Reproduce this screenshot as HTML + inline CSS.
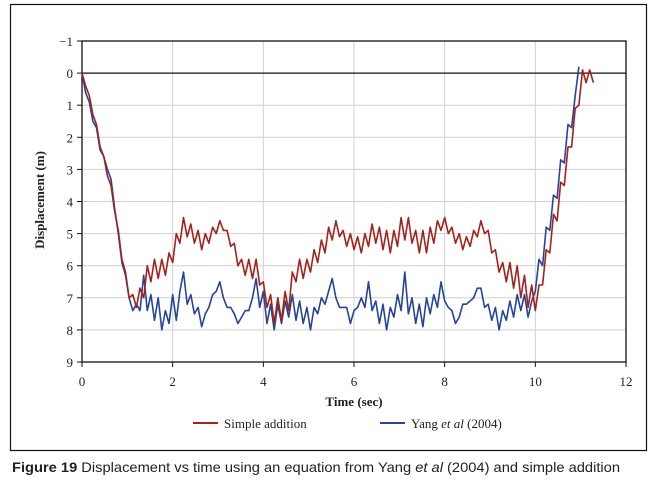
<!DOCTYPE html>
<html><head><meta charset="utf-8"><style>
body{margin:0;background:#fff;width:655px;height:485px;overflow:hidden}
svg{display:block}
text{font-family:"Liberation Serif",serif;fill:#222}
</style></head><body>
<svg id="chart" width="655" height="485" viewBox="0 0 655 485" xmlns="http://www.w3.org/2000/svg">
<rect x="10.5" y="4.5" width="636" height="446" fill="none" stroke="#111" stroke-width="1.2"/>
<g id="grid"></g>
<g id="axes"></g>
<g id="series"></g>
<text transform="translate(44,200) rotate(-90)" text-anchor="middle" font-size="13" font-weight="bold">Displacement (m)</text>
<text x="354" y="406" text-anchor="middle" font-size="13" font-weight="bold">Time (sec)</text>
<g>
<g>
<line x1="193" y1="423" x2="218" y2="423" stroke="#a3231c" stroke-width="2"/>
<text x="224" y="428" font-size="13">Simple addition</text></g>
<g>
<line x1="380" y1="423" x2="405" y2="423" stroke="#26449a" stroke-width="2"/>
<text x="411" y="428" font-size="13">Yang <tspan font-style="italic">et al</tspan> (2004)</text></g>
</g>
<text x="12" y="472" font-size="14" textLength="608" lengthAdjust="spacingAndGlyphs" style="font-family:'Liberation Sans',sans-serif"><tspan font-weight="bold">Figure 19</tspan> Displacement vs time using an equation from Yang <tspan font-style="italic">et al</tspan> (2004) and simple addition</text>
</svg>
<script>
const dt = 0.08;
const xTicks = [0,2,4,6,8,10,12];
const yTicks = [-1,0,1,2,3,4,5,6,7,8,9];
const simpleAddition = [0,0.4,0.7,1.3,1.6,2.3,2.6,3.2,3.5,4.3,4.9,5.8,6.2,7.0,6.9,7.3,6.7,7.0,6.0,6.5,5.8,6.4,5.8,6.3,5.6,5.9,5.0,5.3,4.5,5.1,4.7,5.3,4.9,5.5,5.0,5.3,4.8,5.0,4.6,4.9,4.9,5.4,5.3,6.0,5.8,6.3,5.8,6.4,5.8,6.6,6.5,7.3,6.9,7.8,7.0,7.7,6.8,7.4,6.2,6.5,5.8,6.4,5.8,6.2,5.5,5.9,5.2,5.6,4.8,5.2,4.6,5.1,4.9,5.4,5.0,5.5,5.1,5.6,5.0,5.4,4.7,5.3,4.8,5.5,4.9,5.6,4.9,5.4,4.5,5.2,4.5,5.3,4.9,5.6,4.9,5.6,4.8,5.3,4.6,4.9,4.5,5.0,4.8,5.3,5.0,5.5,5.1,5.4,4.9,5.1,4.6,5.0,4.9,5.6,5.5,6.2,5.9,6.5,5.9,6.7,6.0,7.0,6.3,7.3,6.6,7.4,6.6,6.6,5.5,5.6,4.4,4.6,3.4,3.5,2.3,2.3,1.1,1.0,-0.1,0.3,-0.1,0.3];
const yang = [0,0.6,0.9,1.5,1.7,2.4,2.6,3.0,3.3,4.2,5.0,5.9,6.3,7.0,7.4,7.2,7.4,6.3,7.4,6.9,7.7,7.0,8.0,7.4,7.8,6.9,7.7,6.8,6.2,7.2,6.9,7.5,7.3,7.9,7.5,7.3,6.9,6.8,6.5,7.0,7.3,7.3,7.5,7.8,7.6,7.4,7.4,7.0,6.4,7.3,6.8,7.8,7.2,8.0,7.2,7.8,7.1,7.6,6.9,7.7,7.1,7.8,7.3,8.0,7.3,7.5,7.0,7.2,6.8,6.4,7.0,7.3,7.3,7.3,7.8,7.4,7.3,7.0,7.3,6.5,7.4,7.1,7.8,7.2,8.0,7.3,7.6,6.9,7.4,6.2,7.5,7.0,7.8,7.2,7.9,7.0,7.5,6.9,7.3,6.5,7.1,7.3,7.4,7.8,7.6,7.2,7.2,7.1,7.0,6.7,6.7,7.3,7.2,7.7,7.3,8.0,7.4,7.7,7.1,7.6,6.9,7.4,6.9,7.6,7.1,6.8,5.8,6.0,4.8,4.9,3.8,3.9,2.7,2.8,1.6,1.7,0.7,-0.2];

const X0=82,X1=626,Y0=41,Y1=362;
const xs=v=>X0+(v-0)/(12-0)*(X1-X0);
const ys=v=>Y0+(v-(-1))/(9-(-1))*(Y1-Y0);
const NS="http://www.w3.org/2000/svg";
function mk(tag,attrs,parent){const e=document.createElementNS(NS,tag);for(const k in attrs)e.setAttribute(k,attrs[k]);parent.appendChild(e);return e;}
const grid=document.getElementById('grid'),axes=document.getElementById('axes'),series=document.getElementById('series');
xTicks.forEach(t=>{
  if(t>0&&t<12){const g=mk('line',{x1:xs(t),x2:xs(t),y1:Y0,y2:Y1,stroke:'#d0d0d0','stroke-width':1},grid);
  
  }
  const tk=mk('line',{x1:xs(t),x2:xs(t),y1:Y1,y2:Y1+5,stroke:'#111','stroke-width':1},axes);
  
  
  const l=mk('text',{x:xs(t),y:Y1+24,'text-anchor':'middle','font-size':13},axes);
  l.textContent=t;
  
  
});
yTicks.forEach(v=>{
  if(v>-1&&v<9){const g=mk('line',{x1:X0,x2:X1,y1:ys(v),y2:ys(v),stroke:v===0?'#111':'#d0d0d0','stroke-width':v===0?1.3:1},grid);
  
  }
  const tk=mk('line',{x1:X0-5,x2:X0,y1:ys(v),y2:ys(v),stroke:'#111','stroke-width':1},axes);
  
  
  const l=mk('text',{x:X0-9,y:ys(v)+5,'text-anchor':'end','font-size':13},axes);
  l.textContent=v<0?'\u2212'+Math.abs(v):v;
  
  
});
const fr=mk('rect',{x:X0,y:Y0,width:X1-X0,height:Y1-Y0,fill:'none',stroke:'#111','stroke-width':1.3},axes);


function line(arr,color,name){
  const d=arr.map((v,i)=>(i?'L':'M')+xs(i*dt).toFixed(1)+','+ys(v).toFixed(1)).join('');
  const p=mk('path',{d:d,fill:'none',stroke:color,'stroke-width':1.6,'stroke-linejoin':'round'},series);
  
  
}
line(yang,'#26449a','yang-series-line');
line(simpleAddition,'#a3231c','simple-addition-series-line');
</script>
</body></html>
